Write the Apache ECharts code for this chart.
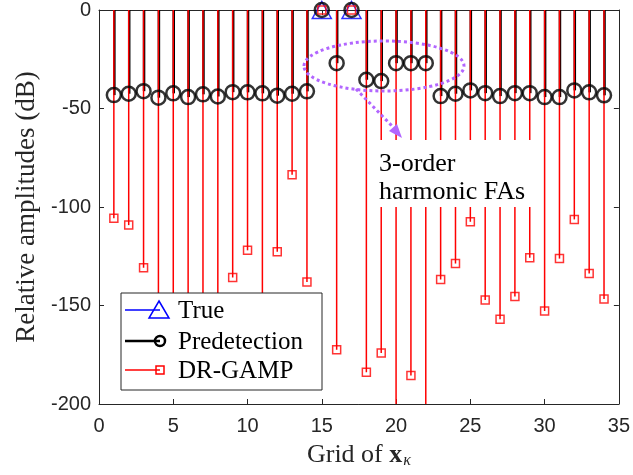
<!DOCTYPE html>
<html><head><meta charset="utf-8">
<script src="https://cdn.jsdelivr.net/npm/echarts@6/dist/echarts.min.js"></script>
<style>html,body{margin:0;padding:0;background:#fff}#c{width:633px;height:475px}</style>
</head><body><div id="c"></div>
<script>
// Grid indices (x positions)
var gridIdx = [1,2,3,4,5,6,7,8,9,10,11,12,13,14,15,16,17,18,19,20,21,22,23,24,25,26,27,28,29,30,31,32,33,34];
// Predetection relative amplitudes (dB)
var predetection = [-43.2,-42.5,-41.2,-44.5,-42.3,-44.2,-42.8,-43.9,-41.7,-41.8,-42.3,-43.5,-42.5,-41.3,0,-27,0,-35.4,-36.1,-27,-27,-27,-43.7,-42.5,-40.8,-42.2,-43.7,-42.2,-42.2,-44.2,-44.2,-40.8,-41.8,-43.3];
// DR-GAMP relative amplitudes (dB)
var drgamp = [-105.7,-109.2,-130.9,-165,-180,-158,-190,-170,-135.8,-122,-175,-122.7,-83.6,-138.1,0,-172.5,0,-183.9,-174.1,-220,-185.5,-230,-136.8,-128.7,-107.5,-147.2,-157,-145.4,-125.8,-152.8,-126.2,-106.3,-133.7,-146.7];
// True targets
var trueIdx = [15,17];
var trueVal = [0,0];
// Axis ticks
var xTicks = [0,5,10,15,20,25,30,35];
var yTicks = [-200,-150,-100,-50,0];

function pairs(xs, ys){ return xs.map(function(x,i){return [x, ys[i]];}); }

var axisCol = '#262626';
var serif = 'Liberation Serif';
var chart = echarts.init(document.getElementById('c'));
var purple = '#b266ff';

chart.setOption({
  animation:false,
  backgroundColor:'#fff',
  grid:{left:99,right:14,top:9,bottom:71},
  xAxis:[{
    type:'value', min:xTicks[0], max:xTicks[xTicks.length-1], interval:5,
    position:'bottom',
    axisLine:{show:true,onZero:false,lineStyle:{color:axisCol,width:1}},
    axisTick:{show:true,inside:true,length:5,lineStyle:{color:axisCol}},
    axisLabel:{color:axisCol,fontFamily:'Liberation Sans',fontSize:20,margin:12},
    splitLine:{show:false},
    name:'{a|Grid of }{b|x}{c|κ}', nameLocation:'middle', nameGap:37,
    nameTextStyle:{rich:{
      a:{fontFamily:serif,fontSize:26,color:axisCol},
      b:{fontFamily:serif,fontSize:26,fontWeight:'bold',color:axisCol},
      c:{fontFamily:serif,fontSize:16,fontStyle:'italic',color:axisCol,padding:[12,0,0,1]}
    }}
  },{
    type:'value', min:xTicks[0], max:xTicks[xTicks.length-1], interval:5,
    position:'top',
    axisLine:{show:true,onZero:false,lineStyle:{color:axisCol,width:1}},
    axisTick:{show:true,inside:true,length:5,lineStyle:{color:axisCol}},
    axisLabel:{show:false}, splitLine:{show:false}
  }],
  yAxis:[{
    type:'value', min:yTicks[0], max:yTicks[yTicks.length-1], interval:50,
    position:'left',
    axisLine:{show:true,onZero:false,lineStyle:{color:axisCol,width:1}},
    axisTick:{show:true,inside:true,length:5,lineStyle:{color:axisCol}},
    axisLabel:{color:axisCol,fontFamily:'Liberation Sans',fontSize:20,margin:8},
    splitLine:{show:false},
    name:'Relative amplitudes (dB)', nameLocation:'middle', nameGap:59,
    nameTextStyle:{fontFamily:serif,fontSize:27,color:axisCol}
  },{
    type:'value', min:yTicks[0], max:yTicks[yTicks.length-1], interval:50,
    position:'right',
    axisLine:{show:true,onZero:false,lineStyle:{color:axisCol,width:1}},
    axisTick:{show:true,inside:true,length:5,lineStyle:{color:axisCol}},
    axisLabel:{show:false}, splitLine:{show:false}
  }],
  series:[
    {type:'bar', name:'PredetStem', data:pairs(gridIdx,predetection), barWidth:2.5, barGap:'-100%',
     itemStyle:{color:'#000'}, z:2, silent:true},
    {type:'bar', name:'DRStem', data:pairs(gridIdx,drgamp), barWidth:1.5, barGap:'-100%',
     itemStyle:{color:'#ff0000'}, z:3, silent:true},
    {type:'scatter', name:'True', data:pairs(trueIdx,trueVal), symbol:'triangle', symbolSize:[19,17],
     itemStyle:{color:'rgba(0,0,0,0)',borderColor:'#0000ff',borderWidth:1.5}, z:4},
    {type:'scatter', name:'Predetection', data:pairs(gridIdx,predetection), symbol:'circle', symbolSize:14,
     itemStyle:{color:'rgba(0,0,0,0)',borderColor:'#000',borderWidth:2.5}, z:5},
    {type:'scatter', name:'DR-GAMP', data:pairs(gridIdx,drgamp), symbol:'rect', symbolSize:8,
     itemStyle:{color:'rgba(0,0,0,0)',borderColor:'#ff0000',borderWidth:1.5}, z:6}
  ],
  graphic:[
    // annotation ellipse
    {type:'ellipse', z:100, shape:{cx:384,cy:66,rx:80,ry:25},
     style:{fill:null,stroke:purple,lineWidth:3,lineDash:[3,3]}},
    {type:'line', z:100, shape:{x1:356,y1:89,x2:394,y2:128},
     style:{stroke:purple,lineWidth:3,lineDash:[3,3]}},
    {type:'polygon', z:100, shape:{points:[[402,138],[389,131],[397,124]]},
     style:{fill:purple}},
    // annotation text box
    {type:'rect', z:100, shape:{x:368,y:140,width:168,height:67}, style:{fill:'#fff'}},
    {type:'text', z:101, x:379, y:164, style:{text:'3-order',font:'26px "Liberation Serif"',fill:'#000',textVerticalAlign:'middle'}},
    {type:'text', z:101, x:379, y:192, style:{text:'harmonic FAs',font:'26px "Liberation Serif"',fill:'#000',textVerticalAlign:'middle'}},
    // legend
    {type:'rect', z:100, shape:{x:121,y:293,width:201,height:97}, style:{fill:'#fff',stroke:axisCol,lineWidth:1}},
    {type:'line', z:101, shape:{x1:125,y1:310,x2:160,y2:310}, style:{stroke:'#0000ff',lineWidth:1.5}},
    {type:'polygon', z:101, shape:{points:[[159,301],[169,318],[149,318]]}, style:{fill:null,stroke:'#0000ff',lineWidth:1.5}},
    {type:'text', z:101, x:178, y:311, style:{text:'True',font:'25px "Liberation Serif"',fill:'#000',textVerticalAlign:'middle'}},
    {type:'line', z:101, shape:{x1:125,y1:341,x2:160,y2:341}, style:{stroke:'#000',lineWidth:2.5}},
    {type:'circle', z:101, shape:{cx:160,cy:341,r:5}, style:{fill:null,stroke:'#000',lineWidth:2.5}},
    {type:'text', z:101, x:178, y:342, style:{text:'Predetection',font:'25px "Liberation Serif"',fill:'#000',textVerticalAlign:'middle'}},
    {type:'line', z:101, shape:{x1:125,y1:370,x2:160,y2:370}, style:{stroke:'#ff0000',lineWidth:1.5}},
    {type:'rect', z:101, shape:{x:156,y:366,width:8,height:8}, style:{fill:null,stroke:'#ff0000',lineWidth:1.5}},
    {type:'text', z:101, x:178, y:371, style:{text:'DR-GAMP',font:'25px "Liberation Serif"',fill:'#000',textVerticalAlign:'middle'}}
  ]
});
</script></body></html>
